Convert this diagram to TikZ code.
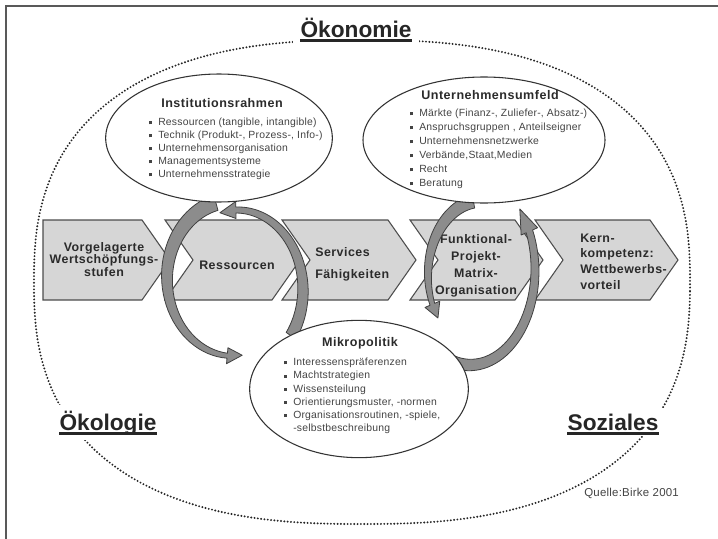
\documentclass[tikz,border=0pt]{standalone}
\usepackage{fontspec}
\setmainfont{Liberation Sans}
\newfontfamily\trk{Liberation Sans}[LetterSpace=4]
\newfontfamily\trks{Liberation Sans}[LetterSpace=2]
\usetikzlibrary{shapes.geometric}
\definecolor{chevfill}{HTML}{D6D6D6}
\definecolor{edgec}{HTML}{4D4D4D}
\definecolor{bandfill}{HTML}{8C8C8C}
\definecolor{txt}{HTML}{2B2B2B}
\definecolor{itemtxt}{HTML}{444444}
\newcommand\bul{\makebox[0pt][r]{\rule[1.0pt]{2.3pt}{2.3pt}\hspace{5pt}}}
\newcommand{\myband}[9]{%
 \pgfmathsetmacro{\hb}{(#6)-sign((#6)-(#5))*(#9)}%
 \pgfmathsetmacro{\hw}{((#8)+11)/2}%
 \filldraw[band]
  plot[variable=\u, domain=0:1, samples=40] ({#1+(#3+0.5*((#7)+((#8)-(#7))*\u))*cos((#5)+(\hb-(#5))*\u)}, {#2+(#4+0.5*((#7)+((#8)-(#7))*\u))*sin((#5)+(\hb-(#5))*\u)})
  -- ({#1+(#3+\hw)*cos(\hb)}, {#2+(#4+\hw)*sin(\hb)})
  -- ({#1+#3*cos(#6)}, {#2+#4*sin(#6)})
  -- ({#1+(#3-\hw)*cos(\hb)}, {#2+(#4-\hw)*sin(\hb)})
  -- plot[variable=\u, domain=0:1, samples=40] ({#1+(#3-0.5*((#8)+((#7)-(#8))*\u))*cos(\hb+((#5)-\hb)*\u)}, {#2+(#4-0.5*((#8)+((#7)-(#8))*\u))*sin(\hb+((#5)-\hb)*\u)})
  -- cycle;}
\tikzset{
 chev/.style={fill=chevfill, draw=edgec, line width=0.8pt, line join=miter},
 chevtext/.style={text=txt, inner sep=0pt},
 band/.style={fill=bandfill, draw=black!75, line width=0.6pt, line join=round},
 bubble/.style={ellipse, draw=black!80, fill=white, line width=0.8pt, inner sep=0pt},
 btitle/.style={font=\trk\bfseries\fontsize{9.4}{11}\selectfont, text=txt, inner sep=0pt, anchor=base},
 bitem/.style={font=\trks\fontsize{7.8}{9}\selectfont, text=itemtxt, inner sep=0pt, anchor=base west},
 biglab/.style={font=\bfseries\fontsize{17}{20}\selectfont, text=black!85, fill=white, inner xsep=6pt, inner ysep=4pt, anchor=base},
 ul/.style={line width=2.3pt, black!85},
 dotline/.style={draw=black!85, line width=1.6pt, dash pattern=on 0pt off 2.5pt, line cap=round},
}
\begin{document}
\begin{tikzpicture}[x=0.75pt, y=-0.75pt]
\useasboundingbox[fill=white] (0,0) rectangle (718,539);
% frame
\draw[line width=1.5pt, black!65, line join=miter] (6,539) -- (6,6) -- (718,6);
% outer dotted shape
\draw[dotline] plot[domain=1:361, samples=181, variable=\t] ({362+328*sign(cos(\t))*abs(cos(\t))^0.8}, {282+242*sign(sin(\t))*abs(sin(\t))^0.8}) -- cycle;
% big labels
\node[biglab] (oek) at (356,37) {Ökonomie};
\node[biglab] (oekol) at (108,430) {Ökologie};
\node[biglab] (soz) at (613,430) {Soziales};
\foreach \n in {oek,oekol,soz}
  \draw[ul] ([xshift=6pt,yshift=-2.6pt]\n.base west) -- ([xshift=-6pt,yshift=-2.6pt]\n.base east);
% chevrons
\draw[chev] (43,220) -- (142,220) -- (170,260) -- (142,300) -- (43,300) -- cycle;
\draw[chev] (165,220) -- (272,220) -- (300,260) -- (272,300) -- (165,300) -- (193,260) -- cycle;
\draw[chev] (282,220) -- (388,220) -- (416,260) -- (388,300) -- (282,300) -- (310,260) -- cycle;
\draw[chev] (410,220) -- (515,220) -- (543,260) -- (515,300) -- (410,300) -- (438,260) -- cycle;
\draw[chev] (535,220) -- (650,220) -- (678,260) -- (650,300) -- (535,300) -- (563,260) -- cycle;
\node[chevtext, align=center, font=\trk\bfseries\fontsize{9.3}{9.6}\selectfont] (c1) at (104,259.5) {Vorgelagerte\\Wertschöpfungs-\\stufen};
\node[chevtext, font=\trk\bfseries\fontsize{9.3}{9.6}\selectfont] (c2) at (237,265) {Ressourcen};
\node[chevtext, align=left, anchor=west, font=\trk\bfseries\fontsize{9.3}{16.5}\selectfont] (c3) at (315,264) {Services\\Fähigkeiten};
\node[chevtext, align=center, font=\trk\bfseries\fontsize{9.3}{12.75}\selectfont] (c4) at (476,266) {Funktional-\\Projekt-\\Matrix-\\Organisation};
\node[chevtext, align=left, anchor=west, font=\trk\bfseries\fontsize{9.3}{11.7}\selectfont] (c5) at (580,261.5) {Kern-\\kompetenz:\\Wettbewerbs-\\vorteil};
% circular arrows
\myband{233}{278}{66}{78}{255}{82}{16}{5}{13}
\myband{237}{290}{66}{80}{35}{-105}{12}{6}{14}
\myband{483}{275}{55}{75}{260}{145}{14}{5}{12}
\myband{470}{270}{65}{95}{105}{-40}{12}{7}{16}
% bubbles
\node[bubble, minimum width=170pt, minimum height=96pt] (inst) at (219,138) {};
\node[bubble, minimum width=181.5pt, minimum height=94.5pt] (umf) at (484,140) {};
\node[bubble, minimum width=164pt, minimum height=103pt] (mikro) at (359,389) {};
\node[btitle] (instt) at (222,107.5) {Institutionsrahmen};
\node[btitle] (umft) at (490,99) {Unternehmensumfeld};
\node[btitle] (mikrot) at (360,346.5) {Mikropolitik};
\foreach \s [count=\i] in {{Ressourcen (tangible, intangible)},{Technik (Produkt-, Prozess-, Info-)},{Unternehmensorganisation},{Managementsysteme},{Unternehmensstrategie}}
  \node[bitem] (ir\i) at (158,{112.7+13*\i}) {\bul\s};
\foreach \s [count=\i] in {{Märkte (Finanz-, Zuliefer-, Absatz-)},{Anspruchsgruppen , Anteilseigner},{Unternehmensnetzwerke},{Verbände,Staat,Medien},{Recht},{Beratung}}
  \node[bitem] (uf\i) at (419,{102.7+14*\i}) {\bul\s};
\foreach \s [count=\i] in {{\bul Interessenspräferenzen},{\bul Machtstrategien},{\bul Wissensteilung},{\bul Orientierungsmuster, -normen},{\bul Organisationsroutinen, -spiele,},{-selbstbeschreibung}}
  \node[bitem] (mp\i) at (293,{352.5+13.2*\i}) {\s};
% source
\node[font=\trks\fontsize{8.6}{10}\selectfont, text=itemtxt, inner sep=0pt, anchor=base west] (src) at (584,496) {Quelle:Birke 2001};
\end{tikzpicture}
\end{document}
